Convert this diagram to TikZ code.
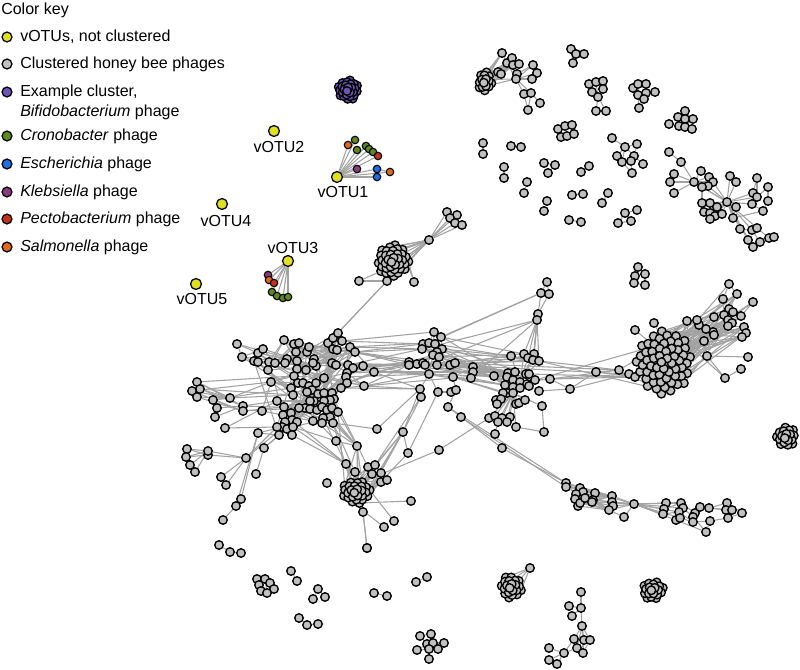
\documentclass[tikz,border=0pt]{standalone}
\usepackage{fontspec}
\setmainfont{Liberation Sans}
\pgfdeclarelayer{bg}
\pgfsetlayers{bg,main}
\definecolor{cyel}{HTML}{E0E020}
\definecolor{cgray}{HTML}{C0C0C0}
\definecolor{cpur}{HTML}{6A55B5}
\definecolor{cgrn}{HTML}{5E8A1C}
\definecolor{cblu}{HTML}{1E6EE6}
\definecolor{ckle}{HTML}{8E3A80}
\definecolor{cpec}{HTML}{C83018}
\definecolor{csal}{HTML}{E06A18}
\definecolor{cedge}{HTML}{A2A2A2}
\tikzset{
 gn/.style={circle,draw=black,fill=cgray,line width=1pt,inner sep=0pt,minimum size=6.4pt},
 pn/.style={gn,fill=cpur},
 sn/.style={circle,draw=black,line width=0.85pt,inner sep=0pt,minimum size=5.6pt},
 vn/.style={circle,draw=black,fill=cyel,line width=0.95pt,inner sep=0pt,minimum size=8.2pt},
 kn/.style={circle,draw=black,line width=0.95pt,inner sep=0pt,minimum size=7.4pt},
 ed/.style={draw=cedge,line width=0.8pt},
 lab/.style={font=\fontsize{12}{14}\selectfont,inner sep=0pt},
}
\newcommand\mylist[3][gn]{\foreach \x/\y [count=\i] in {#3} {\node[#1] (#2-\i) at (\x,\y) {};}}
% blob: nodes on a sunflower spiral, outer ring drawn first so the core lies on top
\newcommand\myblob[8][gn]{\foreach \i in {#7,...,1}{\pgfmathsetmacro\myra{\i*137.508+#8}\pgfmathsetmacro\myrb{sqrt((\i-0.5)/#7)}\node[#1] (#2-\i) at ({#3+#5*\myrb*cos(\myra)},{#4+#6*\myrb*sin(\myra)}) {};}}
\newcommand\myedges[2]{\foreach \a/\b in {#2} {\draw[ed] (#1-\a) -- (#1-\b);}}
\newcommand\myx[1]{\foreach \a/\b in {#1} {\draw[ed] (\a) -- (\b);}}
\newcommand\myhub[3]{\foreach \b in {#3} {\draw[ed] (#1) -- (#2-\b);}}
\newcommand\myrand[6]{\pgfmathsetseed{#6}\foreach \k in {1,...,#5}{\pgfmathtruncatemacro\myra{random(1,#2)}\pgfmathtruncatemacro\myrb{random(1,#4)}\edef\tmpa{#1-\myra}\edef\tmpb{#3-\myrb}\ifx\tmpa\tmpb\else\draw[ed] (\tmpa) -- (\tmpb);\fi}}
\begin{document}
\begin{tikzpicture}[x=0.75pt,y=-0.75pt]
\useasboundingbox (0,0) rectangle (800,670);
% ---------- legend ----------
\node[lab,anchor=west] (key) at (1,10) {Color key};
\node[kn,fill=cyel] (k1) at (7,37) {};
\node[lab,anchor=west] (t1) at (20,37) {vOTUs, not clustered};
\node[kn,fill=cgray] (k2) at (7,64) {};
\node[lab,anchor=west] (t2) at (20,64) {Clustered honey bee phages};
\node[kn,fill=cpur] (k3) at (7,92) {};
\node[lab,anchor=west] (t3) at (20,92) {Example cluster,};
\node[lab,anchor=west] (t3b) at (20,112) {\textit{Bifidobacterium} phage};
\node[kn,fill=cgrn] (k4) at (7,136) {};
\node[lab,anchor=west] (t4) at (20,136) {\textit{Cronobacter} phage};
\node[kn,fill=cblu] (k5) at (7,164) {};
\node[lab,anchor=west] (t5) at (20,164) {\textit{Escherichia} phage};
\node[kn,fill=ckle] (k6) at (7,192) {};
\node[lab,anchor=west] (t6) at (20,192) {\textit{Klebsiella} phage};
\node[kn,fill=cpec] (k7) at (7,219) {};
\node[lab,anchor=west] (t7) at (20,219) {\textit{Pectobacterium} phage};
\node[kn,fill=csal] (k8) at (7,247) {};
\node[lab,anchor=west] (t8) at (20,247) {\textit{Salmonella} phage};
% ---------- vOTUs ----------
\foreach \x/\y/\cc [count=\i] in {348/145/csal,355/140/cgrn,357/150/cgrn,366/146/cgrn,369/149/cgrn,373/152/cgrn,378/156/cpec,357/169/ckle,377/169/cblu,377/177/cblu,390/172/csal}
  {\node[sn,fill=\cc] (sa-\i) at (\x,\y) {};}
\foreach \x/\y/\cc [count=\i] in {268/275/ckle,269/280/csal,274/283/cpec,272/292/cgrn,277/296/cgrn,283/298/cgrn,288/297/cgrn}
  {\node[sn,fill=\cc] (sb-\i) at (\x,\y) {};}
\node[vn] (v1) at (337,177) {};
\node[vn] (v2) at (274,131) {};
\node[vn] (v3) at (288,261) {};
\node[vn] (v4) at (222,204) {};
\node[vn] (v5) at (196,284) {};
\node[lab] (l1) at (343,192) {vOTU1};
\node[lab] (l2) at (279,147) {vOTU2};
\node[lab] (l3) at (293,248) {vOTU3};
\node[lab] (l4) at (226,221) {vOTU4};
\node[lab] (l5) at (202,299) {vOTU5};
% ---------- purple example cluster ----------
\myblob[pn]{PB}{348}{90}{10}{10.5}{26}{0}
% ---------- top right ----------
\mylist{A}{502/53, 507/63, 512/58, 513/65, 519/64, 517/74, 516/79, 498/72, 501/74, 533/65, 537/73, 532/79, 524/94, 531/93, 540/103, 528/110}
\myblob{AB}{485}{82}{7}{10}{15}{20}
\mylist{B}{571/49, 576/54, 584/54, 573/63}
\mylist{C}{589/84, 596/82, 603/81, 592/92, 603/89, 598/97, 596/111, 606/111}
\mylist{D}{633/88, 638/84, 646/84, 638/95, 646/93, 644/99, 655/92, 639/108}
\mylist{E}{685/111, 678/117, 685/119, 693/119, 669/124, 679/126, 685/127, 692/129}
\mylist{F}{558/129, 565/126, 572/125, 561/137, 567/136, 574/134}
\mylist{PR}{483/143, 483/154, 511/146, 521/147, 504/167, 504/178, 527/182, 524/193, 544/163, 555/165, 548/173, 581/172, 589/166, 547/201, 544/211, 572/195, 583/194, 608/193, 602/203, 569/220, 581/222, 625/213, 637/210, 618/223, 631/221}
\mylist{G}{612/138, 625/147, 637/144, 617/156, 634/156, 622/162, 631/161, 643/164, 632/173}
\mylist{H}{669/152, 681/162, 674/174, 670/182, 674/193, 694/182, 701/171, 709/177, 713/182, 708/186, 702/187, 730/176, 736/182, 727/202, 736/207, 702/203, 710/203, 717/207, 704/212, 710/213, 715/216, 722/214, 710/219, 733/218, 740/229, 752/230, 757/228, 748/240, 753/247, 760/242, 769/238, 774/237, 757/178, 768/187, 753/193, 757/197, 768/201, 752/204, 763/211}
\mylist{Q}{638/267, 635/276, 645/274, 634/283, 645/285}
% ---------- main network ----------
\mylist{I}{429/240, 447/212, 457/215, 450/218, 455/223, 462/225, 414/282, 359/281, 387/281}
\myblob{IB}{393}{261}{16}{16}{36}{7}
\mylist{M}{237/344, 242/357, 254/361, 258/353, 263/349, 258/362, 269/362, 275/363, 268/370, 284/340,
294/344, 299/343, 296/352, 307/352, 309/347, 287/359, 297/361, 285/363, 328/343, 333/338,
338/333, 342/341, 333/349, 337/350, 350/347, 355/352, 314/359, 316/366, 313/363, 332/363,
336/365, 348/365, 353/368, 363/366, 374/372, 347/373, 346/377, 347/383, 341/388, 364/386,
324/378, 306/370, 297/369, 294/376, 271/382, 291/388, 293/395, 298/383, 303/383, 309/386,
316/383, 312/390, 307/392, 318/394, 324/393, 332/393, 334/399, 330/400, 324/401, 314/401,
310/401, 305/408, 299/408, 310/409, 317/410, 322/407, 327/410, 332/408, 338/412, 330/417,
323/418, 333/423, 313/421, 322/423, 277/401, 284/407, 283/415, 291/413, 292/420, 297/422,
285/422, 282/427, 277/427, 287/429, 293/427, 279/435, 292/435, 336/441}
\mylist{LS}{197/382, 200/389, 192/391, 197/397, 213/400, 217/408, 215/417, 230/398, 243/406, 243/411,
225/428, 262/411, 258/433, 264/448, 187/449, 186/457, 190/465, 195/472, 208/455, 208/451,
221/477, 226/485, 246/458, 256/474, 241/499, 236/506, 223/520}
\mylist{J}{434/332, 441/337, 423/344, 429/343, 435/344, 442/349, 422/349, 437/352, 433/355, 439/357,
409/362, 417/364, 423/363, 425/365, 437/365, 450/365, 455/363, 409/365, 429/374, 453/377,
473/367, 473/372, 471/378, 420/389, 421/397, 438/392, 451/392, 456/390, 448/407, 461/417}
\mylist{K}{547/282, 541/293, 549/294, 538/314, 537/320, 511/356, 524/354, 534/354, 528/358, 533/360,
539/361, 508/373, 515/372, 526/374, 529/374, 507/377, 513/380, 520/382, 527/384, 535/380,
550/379, 505/385, 513/387, 507/393, 520/388, 529/386, 503/393, 513/393, 496/400, 501/399,
497/404, 516/404, 519/403, 525/400, 539/391, 542/406, 489/418, 495/416, 502/418, 510/417,
498/422, 507/422, 516/427, 495/434, 544/432, 570/389, 596/372, 494/376, 502/448}
\mylist{L}{729/284, 737/294, 723/299, 753/302, 729/309, 733/312, 724/315, 741/316, 714/317, 728/320,
732/323, 728/326, 744/327, 746/333, 742/337, 713/332, 714/335, 704/341, 706/329, 699/325,
697/320, 687/321, 707/356, 748/357, 741/369, 725/378, 619/370, 629/374, 635/377, 654/323,
635/330}
\myblob{LB}{664}{362}{28}{32}{58}{40}
\mylist{N}{346/464, 357/446, 355/472, 368/467, 375/465, 372/474, 381/473, 381/482, 387/480, 327/483,
363/512, 394/521, 384/527, 411/501, 403/432, 408/453, 377/429, 367/548, 439/450}
\myblob{NB}{356}{492}{14}{12}{26}{15}
\mylist{V}{566/483, 566/487, 580/488, 583/492, 576/494, 575/499, 578/506, 580/503, 585/498, 595/493,
593/500, 592/502, 612/496, 612/502, 613/506, 609/510, 624/517, 634/504, 666/503, 664/509,
663/514, 681/503, 683/508, 679/512, 676/520, 680/518, 695/513, 693/517, 693/522, 700/507,
709/508, 710/521, 706/532, 727/503, 726/510, 732/510, 728/518, 742/513}
\myblob{RB}{786}{437}{9.5}{10.5}{18}{3}
% ---------- bottom ----------
\myblob{SB}{511}{587}{10.5}{11.5}{21}{9}
\node[gn] (SX) at (530,568) {};
\myblob{TB}{653}{590}{10.5}{9.5}{19}{31}
\mylist{U}{581/592, 569/606, 581/608, 572/616, 582/626, 574/639, 584/640, 590/640, 577/648, 583/653, 564/653, 549/648, 549/660, 557/664}
\mylist{W}{257/579, 265/579, 270/583, 259/585, 274/589, 261/591, 267/593}
\mylist{X}{420/636, 431/634, 427/644, 433/643, 444/643, 417/650, 429/649, 438/649, 429/659}
\mylist{BT}{291/571, 297/581, 318/589, 325/597, 313/599, 299/618, 307/625, 318/624, 374/593, 387/596, 416/582, 427/577, 219/545, 230/552, 241/553, 367/548}
% ================= edges =================
\begin{pgfonlayer}{bg}
\foreach \i in {1,...,11} {\draw[ed] (v1) -- (sa-\i);}
\draw[ed] (sa-9) -- (sa-11);
\foreach \i in {1,...,7} {\draw[ed] (v3) -- (sb-\i);}
% top right
\myrand{A}{9}{AB}{15}{30}{11}
\myrand{AB}{15}{AB}{15}{20}{12}
\myhub{A-7}{A}{1,2,3,4,5,10,11,12,13,14}
\myedges{A}{13/14,14/15,13/16,14/16,1/2,2/3,3/5,10/11,11/12,6/10}
\myedges{B}{1/2,2/3,2/4,1/4}
\myedges{C}{1/2,2/3,1/4,2/4,3/5,4/6,5/6,2/6,6/7,6/8}
\myedges{D}{1/2,2/3,2/4,3/5,4/5,5/6,5/7,4/6,6/8,4/8}
\myedges{E}{1/3,2/3,3/4,2/6,3/7,4/8,5/6,6/7,7/8}
\myedges{F}{1/2,2/3,1/4,4/5,5/6,2/5,3/6}
\myedges{PR}{1/2,3/4,5/6,7/8,9/10,9/11,12/13,14/15,16/17,18/19,20/21,22/23,22/24,24/25,22/25}
\myedges{G}{1/2,2/3,2/4,2/5,2/6,4/6,5/7,6/7,5/8,7/9,6/9,3/5}
\myedges{H}{1/2,2/6,3/6,4/6,5/6,6/7,6/8,6/9,6/10,6/11,7/8,12/13,33/35,33/36,34/36,34/37,36/38,37/39,38/39,39/24,25/26,26/27,26/28,28/29,29/30,30/31,31/32,26/30,27/31,15/24,11/16}
\myhub{H-14}{H}{6,9,10,11,12,13,15,16,17,18,19,20,21,22,23,24,25,26,27,28,29,35,36,38}
\myedges{Q}{1/2,1/3,2/3,2/4,3/5,4/5}
% I cluster
\myhub{I-1}{I}{2,3,4,5,6}
\myedges{I}{2/3,3/4,2/4,4/5,5/6,8/9}
\myrand{I}{1}{IB}{36}{14}{12}
\myx{I-7/IB-34, I-7/IB-31, I-9/IB-33, I-9/IB-28, I-8/IB-35, I-9/M-21, I-9/M-20}
\myrand{IB}{36}{IB}{36}{45}{13}
% M cluster
\foreach \i in {1,...,85} {\pgfmathtruncatemacro\j{\i+1}\pgfmathtruncatemacro\k{\i+3}\draw[ed] (M-\i) -- (M-\j); \draw[ed] (M-\i) -- (M-\k);}
\myhub{M-23}{M}{10,11,12,13,14,15,16,17,19,20,21,22,25,26,27,29,30,31}
\myhub{M-28}{M}{1,2,3,4,5,6,7,8,9,16,17,18,41,42,43,44,45,46}
\myhub{M-61}{M}{47,48,49,50,51,52,53,54,55,56,75,76,77,78,79,80,81,82,83,84,85}
\myhub{M-36}{M}{30,31,32,33,34,35,37,38,39,40,41,55,56,57}
\myhub{M-55}{M}{19,20,21,22,23,24,30,31,36,37,38,39,41,57,58,66,67,68}
\myrand{M}{88}{M}{88}{60}{31}
\myedges{LS}{1/8,2/8,3/8,4/8,1/9,2/9,3/10,4/10,5/8,6/9,7/9,5/10,15/19,16/19,17/20,18/20,15/20,16/20,19/23,20/23,21/23,22/23,24/14,25/13,26/13,26/27}
\myx{LS-8/M-45, LS-9/M-75, LS-10/M-76, LS-9/M-62, LS-10/M-63, LS-11/M-83, LS-11/M-75, LS-12/M-45, LS-12/M-77, LS-13/M-86, LS-14/M-86, LS-14/M-84, LS-23/M-83, LS-23/M-79, LS-13/M-82, LS-8/M-47, LS-5/M-46, LS-1/M-44, LS-2/M-47, LS-3/M-45}
% J, K
\myhub{J-9}{J}{1,2,3,4,5,6,7,8,10,11,12,13,14,15,16,17,19}
\myedges{J}{1/2,1/4,3/4,4/5,2/6,19/20,20/21,21/22,22/23,24/25,26/27,27/28,28/29,29/30,19/24,19/26,20/28,15/16,16/17,11/18,12/13}
\myhub{K-18}{K}{6,7,8,9,10,11,12,13,14,15,16,17,19,20,21,22,23,25,26,35}
\myhub{K-28}{K}{22,24,25,27,29,30,31,32,33,34,36,37,38,39,40,41,42,43}
\myedges{K}{1/2,1/3,2/4,3/4,4/5,5/7,5/8,5/9,5/10,5/11,4/8,21/46,46/47,41/44,36/45,43/45,35/46,12/48,22/48}
\myrand{J}{23}{K}{26}{30}{32}
% L
\myedges{L}{1/2,1/3,3/5,2/5,5/6,6/8,7/9,9/10,10/11,11/12,12/13,13/14,14/15,16/17,18/19,19/20,20/21,21/22,23/24,23/26,25/26,4/8,3/7,15/17}
\myrand{L}{22}{LB}{58}{70}{5}
\myx{L-23/LB-50, L-26/LB-57, L-27/LB-45, L-28/LB-40, L-29/LB-30, L-30/LB-55, L-31/LB-47, L-27/LB-20}
\myrand{LB}{58}{LB}{58}{90}{6}
% N
\myrand{N}{10}{NB}{26}{30}{8}
\myrand{NB}{26}{NB}{26}{40}{9}
\myx{N-11/NB-25, N-12/NB-26, N-13/NB-22, N-14/NB-24, N-11/N-18, N-15/NB-23, N-15/NB-26, N-15/NB-24, N-15/NB-21, N-15/N-16, N-15/N-5, N-16/NB-21, N-19/NB-23, N-19/K-37, N-17/M-72, N-17/J-24, N-2/M-72, N-2/M-74, N-2/M-88, N-2/M-70, N-1/M-87, N-1/M-85, N-1/M-79, NB-20/M-72, NB-17/M-69, N-15/J-24, N-15/J-25, N-16/J-26, N-5/J-25, N-4/M-57, N-2/M-69, N-2/M-67, N-1/M-71, N-3/M-72}
% cross-cluster
\myx{M-25/J-7, M-26/J-3, M-26/J-11, M-33/J-11, M-34/J-12, M-35/J-13, M-34/J-18, M-26/J-18, M-32/J-7, M-40/J-18, M-22/J-3, M-35/J-24, M-40/J-24, M-26/J-7, M-33/J-12, M-38/J-11,
M-22/J-1, M-25/J-4, M-24/J-11, M-30/J-18, M-31/J-12, M-36/J-13, M-37/J-19, M-39/J-24, M-40/J-19,
M-35/K-16, M-34/K-22, M-40/K-12, M-26/K-12, M-35/K-13,
J-16/K-12, J-17/K-13, J-21/K-12, J-22/K-16, J-23/K-22, J-17/K-6, J-15/K-48, J-16/K-20, J-20/K-27, J-6/K-6, J-2/K-7, J-10/K-16,
K-21/L-27, K-46/L-28, K-47/L-27, K-20/L-28, K-21/L-29, J-17/L-27, J-16/L-28, K-11/L-27, K-47/L-29, K-20/LB-20, K-11/LB-45, K-15/L-29,
K-49/V-1, J-30/K-49, J-30/V-2, J-29/V-1}
% V
\myhub{V-18}{V}{10,11,12,13,14,15,16,17,19,20,21,22,23,24,25,26}
\myedges{V}{1/2,1/3,2/3,3/4,4/5,5/6,6/7,7/8,8/9,9/10,4/10,3/9,5/11,1/10,2/12,6/12,7/11,10/13,11/14,12/15,9/13,16/17,13/14,14/15,19/20,20/21,22/23,23/24,24/25,25/26,22/27,23/28,26/29,27/28,28/29,27/30,30/31,24/29,19/22,21/24,31/34,31/35,31/36,34/35,35/36,36/37,37/38,34/38,36/38,32/29,32/33,25/33,28/33,32/37,20/22}
\foreach \i in {1,...,9} {\draw[ed] (V-\i) -- (V-13); \draw[ed] (V-\i) -- (V-16);}
% bottom
\myrand{RB}{18}{RB}{18}{20}{4}
\myhub{SX}{SB}{17,18,20,21}
\myrand{SB}{21}{SB}{21}{30}{21}
\myrand{TB}{19}{TB}{19}{25}{22}
\myedges{U}{1/3,2/3,2/4,4/3,3/5,5/6,5/7,5/8,5/9,5/10,6/11,9/11,11/12,11/13,11/14,7/10,8/10}
\myedges{W}{1/2,2/3,1/4,4/6,6/7,7/5,3/5,2/4,4/7,2/7}
\myedges{X}{1/3,2/4,3/4,4/5,3/6,3/7,4/8,7/9,6/7,7/8,1/2}
\myedges{BT}{1/2,3/4,3/5,6/7,7/8,9/10,11/12,13/14,14/15}
\myx{BT-16/N-11}
\end{pgfonlayer}
\end{tikzpicture}
\end{document}
